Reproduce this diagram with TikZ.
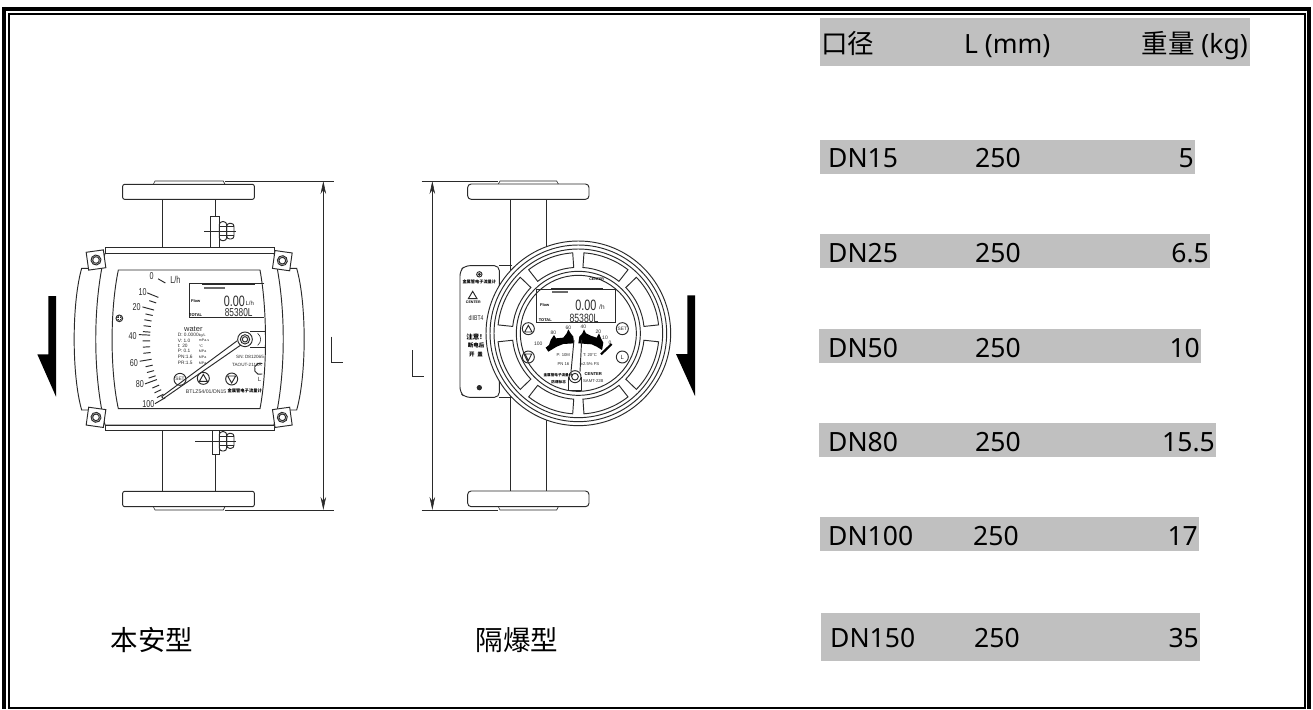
\documentclass[tikz,border=0pt]{standalone}
\usepackage{fontspec}
\setmainfont{Noto Sans}
\newfontfamily\cjk{Noto Sans CJK SC}
\newfontfamily\dial{Liberation Sans}
\usetikzlibrary{arrows.meta}
\definecolor{band}{HTML}{C0C0C0}
\definecolor{ink}{HTML}{2A2A2A}
\newcommand{\narrow}[1]{\scalebox{0.72}[1]{#1}}
\tikzset{
  x=1pt,y=-1pt,
  bandbox/.style={fill=band,draw=none},
  tab/.style={font=\fontsize{26.5}{26.5}\selectfont,inner sep=0pt,text=black},
  captext/.style={font=\cjk\fontsize{27.5}{28}\selectfont,inner sep=0pt,text=black},
  lw/.style={draw=ink,line width=0.95pt},
  thinline/.style={draw=ink,line width=0.6pt},
  small/.style={font=\dial\fontsize{#1}{#1}\selectfont,inner sep=0pt,text=ink},
  smallb/.style={font=\dial\bfseries\fontsize{#1}{#1}\selectfont,inner sep=0pt,text=black},
  smallc/.style={font=\cjk\bfseries\fontsize{#1}{#1}\selectfont,inner sep=0pt,text=black},
  dimarrow/.style={draw=ink,line width=0.6pt,{Stealth[length=13pt,width=5.5pt]}-{Stealth[length=13pt,width=5.5pt]}},
}
\begin{document}
\begin{tikzpicture}
\useasboundingbox (0,0) rectangle (1313,709);
\fill[white] (0,0) rectangle (1313,709);
% frame
\draw[black,line width=4pt] (4,9) -- (1309,9);
\draw[black,line width=4pt] (4,7) -- (4,709);
\draw[black,line width=4pt] (1309,7) -- (1309,709);
\draw[black,line width=2pt] (9,14) -- (1304.5,14);
\draw[black,line width=2pt] (9,13) -- (9,709);
\draw[black,line width=2pt] (1304.5,13) -- (1304.5,709);
\draw[black,line width=2pt] (8,708) -- (1305.5,708);
% table bands
\path[bandbox] (820,18) rectangle (1250,66);
\path[bandbox] (820,140) rectangle (1195,174);
\path[bandbox] (820,234) rectangle (1210,268);
\path[bandbox] (819,329) rectangle (1201,363);
\path[bandbox] (819,423) rectangle (1216,457);
\path[bandbox] (820,517) rectangle (1199,551);
\path[bandbox] (821,613) rectangle (1200,661);
% table text
\node[tab,anchor=base west] (h1) at (821,53) {\cjk 口径};
\node[tab,anchor=base west] (h2) at (964,53) {L (mm)};
\node[tab,anchor=base east] (h3) at (1248,53) {{\cjk 重量} (kg)};
\node[tab,anchor=base west] (a1) at (828,167) {DN15};
\node[tab,anchor=base west] (b1) at (975,167) {250};
\node[tab,anchor=base east] (c1) at (1194,167) {5};
\node[tab,anchor=base west] (a2) at (828,262) {DN25};
\node[tab,anchor=base west] (b2) at (975,262) {250};
\node[tab,anchor=base east] (c2) at (1209,262) {6.5};
\node[tab,anchor=base west] (a3) at (828,357) {DN50};
\node[tab,anchor=base west] (b3) at (975,357) {250};
\node[tab,anchor=base east] (c3) at (1200,357) {10};
\node[tab,anchor=base west] (a4) at (828,451) {DN80};
\node[tab,anchor=base west] (b4) at (975,451) {250};
\node[tab,anchor=base east] (c4) at (1215,451) {15.5};
\node[tab,anchor=base west] (a5) at (828,545) {DN100};
\node[tab,anchor=base west] (b5) at (973,545) {250};
\node[tab,anchor=base east] (c5) at (1198,545) {17};
\node[tab,anchor=base west] (a6) at (830,647) {DN150};
\node[tab,anchor=base west] (b6) at (974,647) {250};
\node[tab,anchor=base east] (c6) at (1199,647) {35};
% captions
\node[captext] (capa) at (152,640) {本安型};
\node[captext] (capb) at (517,640) {隔爆型};

% ---------- left meter (coordinates are 3x crop coordinates)
\begin{scope}[shift={(30,170)},scale=1/3]
  % flow arrow
  \fill[black] (55,378) -- (78,378) -- (78,680) -- (22,553) -- (55,553) -- cycle;
  % flanges
  \draw[lw,rounded corners=2pt] (278,43) rectangle (673,88);
  \draw[lw,rounded corners=2pt] (278,964) rectangle (673,1010);
  \draw[thinline] (370,43) -- (375,33) -- (580,33) -- (585,43);
  \draw[thinline] (370,1010) -- (375,1020) -- (580,1020) -- (585,1010);
  \draw[thinline] (585,33) -- (912,33);
  \draw[thinline] (585,1020) -- (912,1020);
  \draw[dimarrow] (880,33) -- (880,1020);
  \draw[thinline] (903,500) -- (903,577) -- (938,577);
  % pipes
  \draw[lw] (397,88) -- (397,232) (555,88) -- (555,138);
  \draw[lw] (397,782) -- (397,964) (555,853) -- (555,964);
  % top clamp
  \draw[lw] (540,138) rectangle (568,232);
  \draw[lw,rounded corners=3pt] (568,155) rectangle (590,212);
  \draw[lw,rounded corners=3pt] (590,160) rectangle (612,207);
  \draw[thinline] (568,170) -- (612,170) (568,197) -- (612,197) (522,184) -- (618,184);
  % bottom clamp
  \draw[lw] (546,782) rectangle (568,853);
  \draw[lw,rounded corners=3pt] (568,785) rectangle (590,843);
  \draw[lw,rounded corners=3pt] (590,790) rectangle (612,835);
  \draw[thinline] (568,800) -- (612,800) (568,825) -- (612,825) (495,815) -- (618,815);
  % side covers
  \draw[lw] (215,295) -- (155,295) .. controls (125,400) and (125,615) .. (155,720) -- (218,720);
  \draw[lw] (738,295) -- (800,295) .. controls (830,400) and (830,615) .. (800,720) -- (738,720);
  % body
  \draw[lw,fill=white] (225,250) .. controls (188,400) and (188,615) .. (225,765) -- (732,765) .. controls (769,615) and (769,400) .. (732,250) -- cycle;
  \draw[lw,fill=white] (225,233) rectangle (732,250);
  \draw[lw,fill=white] (225,765) rectangle (732,782);
  % corner brackets
  \foreach \cx/\cy/\ang in {198/270/8,757/272/-8,198/742/-8,757/742/8}{
    \begin{scope}[shift={(\cx,\cy)},rotate=\ang]
      \draw[lw,fill=white] (-26,-27) rectangle (26,27);
      \draw[lw] (0,0) circle[radius=15] (0,0) circle[radius=10];
    \end{scope}
  }
  % window
  \draw[lw] (265,300) -- (690,300) .. controls (712,420) and (712,600) .. (690,716) -- (265,716) .. controls (240,600) and (240,420) .. (265,300) -- cycle;
  % ground
  \draw[lw] (268,445) circle[radius=10];
  \fill[ink] (268,445) circle[radius=7];
  \draw[white,line width=.5pt] (262,445) -- (274,445) (268,439) -- (268,451);
  % scale
  \foreach \a in {19,12.5,9.7,6.9,4.1,-0.3,-3.2,-6.1,-12.5,-15.3,-18,-23,-25.5,-28}{
    \draw[lw] ({704-344*cos(\a)},{511-344*sin(\a)}) -- ({704-366*cos(\a)},{511-366*sin(\a)});
  }
  \foreach \a/\l in {30/25,22/36,15.3/36,2.6/34,-9.5/36,-20/38,-30/36}{
    \draw[lw] ({704-344*cos(\a)},{511-344*sin(\a)}) -- ({704-(344+\l)*cos(\a)},{511-(344+\l)*sin(\a)});
  }
  \node[small=10] (ln0) at (365,318) {\narrow{0}};
  \node[small=10] (lnlh) at (436,331) {\narrow{L/h}};
  \node[small=10] (ln10) at (338,365) {\narrow{10}};
  \node[small=10] (ln20) at (320,410) {\narrow{20}};
  \node[small=10] (ln40) at (308,497) {\narrow{40}};
  \node[small=10] (ln60) at (312,578) {\narrow{60}};
  \node[small=10] (ln80) at (330,642) {\narrow{80}};
  \node[small=10] (ln100) at (355,702) {\narrow{100}};
  % LCD
  \draw[lw] (703,340) -- (477,340) -- (477,442) -- (703,442);
  \fill[ink] (515,341) rectangle (675,345);
  \fill[ink!70] (522,351) rectangle (585,357);
  \node[smallb=4] (lf) at (497,394) {Flow};
  \node[smallb=4] (lt) at (497,435) {TOTAL};
  \node[small=15,anchor=base east] (lq) at (645,408) {\narrow{0.00}};
  \node[small=6,anchor=base west] (lu) at (646,405) {L/h};
  \node[small=11.5,anchor=base east] (ltot) at (668,440) {\narrow{85380L}};
  % plate text
  \node[small=7.5] (w) at (490,476) {water};
  \node[small=4.8,anchor=base west] (p1) at (443,500) {D: 0.0000};
  \node[small=3.6,anchor=base west] (p1u) at (506,500) {kg/L};
  \node[small=4.8,anchor=base west] (p2) at (443,516) {V: 1.0};
  \node[small=3.6,anchor=base west] (p2u) at (506,514) {mPa.s};
  \node[small=4.8,anchor=base west] (p3) at (443,531) {t: 20};
  \node[small=3.6,anchor=base west] (p3u) at (506,531) {°C};
  \node[small=4.8,anchor=base west] (p4) at (443,548) {P: 0.1};
  \node[small=3.6,anchor=base west] (p4u) at (506,548) {MPa};
  \node[small=4.8,anchor=base west] (p5) at (443,565) {PN:1.6};
  \node[small=3.6,anchor=base west] (p5u) at (506,565) {MPa};
  \node[small=4.8,anchor=base west] (p6) at (443,582) {PR:1.5};
  \node[small=3.6,anchor=base west] (p6u) at (506,582) {MPa};
  \node[small=4.6,anchor=base west] (sn) at (618,566) {SN: D812065};
  \node[small=4.6,anchor=base west] (tag) at (606,589) {TAOUT-2113A};
  % pointer
  \draw[lw] (395,680) -- (622,512) (400,686) -- (634,524) (395,680) -- (400,686);
  \draw[lw,fill=white] (645,508) circle[radius=22];
  \draw[lw] (645,508) circle[radius=14] (645,508) circle[radius=8];
  \draw[lw] (660,484) -- (705,484) (660,532) -- (705,532);
  \draw[thinline] (683,490) .. controls (695,500) and (695,516) .. (683,526);
  % buttons
  \draw[lw] (450,628) circle[radius=18];
  \node[small=4.8] (bset) at (450,628) {SET};
  \draw[lw] (520,625) circle[radius=18];
  \draw[lw] (508,634) -- (520,613) -- (532,634) -- cycle;
  \draw[lw] (605,627) circle[radius=18];
  \draw[lw] (593,618) -- (617,618) -- (605,639) -- cycle;
  \draw[lw] (697,612) arc[start angle=66,end angle=294,radius=17];
  \node[small=6] (bl) at (689,628) {L};
  \node[small=5.2,anchor=base west] (model) at (467,669) {BTLZ54/01/DN15};
  \node[smallc=4.3,anchor=base west] (mname) at (592,668) {金属管电子流量计};
\end{scope}

% ---------- right meter
\begin{scope}[shift={(400,170)},scale=1/3]
  \fill[black] (862,376) -- (885,376) -- (885,678) -- (828,552) -- (862,552) -- cycle;
  \draw[lw,rounded corners=3.5pt] (203,42) rectangle (567,88);
  \draw[lw,rounded corners=3.5pt] (203,963) rectangle (567,1010);
  \draw[thinline] (295,42) -- (300,33) -- (470,33) -- (475,42);
  \draw[thinline] (295,1010) -- (300,1020) -- (470,1020) -- (475,1010);
  \draw[thinline] (65,33) -- (295,33);
  \draw[thinline] (65,1020) -- (295,1020);
  \draw[dimarrow] (97,33) -- (97,1020);
  \draw[thinline] (37,540) -- (37,618) -- (72,618);
  \draw[lw] (331,88) -- (331,963) (438,88) -- (438,963);
  % plate
  \draw[lw,fill=white,rounded corners=5pt] (298,287) -- (195,287) -- (180,302) -- (180,667) -- (195,682) -- (298,682) -- cycle;
  \draw[lw] (298,287) -- (335,287) (298,682) -- (335,682);
  \draw[lw] (238,313) circle[radius=8];
  \fill[ink] (238,653) circle[radius=8];
  \fill[ink] (238,313) circle[radius=5];
  \node[smallc=4.2] (pa) at (238,337) {金属管电子流量计};
  \draw[lw] (205,386) -- (218,364) -- (231,386) -- cycle;
  \node[smallb=3.6] (pb) at (220,397) {CENTER};
  \node[small=7] (pc) at (228,443) {\narrow{dIIBT4}};
  \node[smallc=6.5] (pd) at (228,500) {注意！};
  \node[smallc=5.5] (pe) at (228,527) {断电后};
  \node[smallc=5.5] (pf) at (228,553) {开\,\,\,盖};
  % dial
  \draw[lw,fill=white] (535,490) circle[radius=277];
  \draw[lw] (535,490) circle[radius=265];
  \draw[lw] (535,490) circle[radius=253];
  \draw[lw] (535,490) circle[radius=186];
  \draw[lw] (535,490) circle[radius=174];
  \begin{scope}[shift={(535,490)}]
  \foreach \p/\q in {52/86,6/44,-44/-6,-86/-52,-128/-94,-174/-136,136/174,94/128}{
    \draw[lw] (\p:242) arc[start angle=\p,end angle=\q,radius=242] -- (\q:198) arc[start angle=\q,end angle=\p,radius=198] -- cycle;
  }
  \end{scope}
  % LCD
  \draw[lw] (410,358) rectangle (645,458);
  \fill[ink] (452,354) rectangle (610,358);
  \fill[ink!70] (456,364) rectangle (505,369);
  \node[smallb=3.6] (cc) at (590,328) {CENTER};
  \node[smallb=4] (df) at (434,406) {Flow};
  \node[smallb=4] (dt) at (436,450) {TOTAL};
  \node[small=15,anchor=base east] (dq) at (590,422) {\narrow{0.00}};
  \node[small=6.5,anchor=base west] (du) at (597,418) {/h};
  \node[small=12,anchor=base east] (dtot) at (596,456) {\narrow{85380L}};
  % buttons
  \draw[lw] (385,476) circle[radius=18];
  \draw[lw] (374,486) -- (385,466) -- (396,486) -- cycle;
  \draw[lw] (667,476) circle[radius=18];
  \node[small=4.8] (dset) at (667,476) {SET};
  \draw[lw] (385,561) circle[radius=18];
  \draw[lw] (375,552) -- (395,552) -- (385,572) -- cycle;
  \draw[lw] (667,561) circle[radius=18];
  \node[small=6] (dl) at (667,561) {L};
  % black fan
  \fill[black] (437,533) -- (447,525) -- (452,510) -- (462,495) -- (468,505) -- (490,503) -- (500,490) -- (505,478) -- (512,490) -- (520,500) -- (522,520) -- (490,522) -- (470,530) -- (445,545) -- cycle;
  \fill[black] (535,520) -- (538,500) -- (547,490) -- (552,478) -- (558,490) -- (572,497) -- (590,503) -- (597,490) -- (603,505) -- (610,518) -- (608,530) -- (606,540) -- (590,530) -- (575,523) -- cycle;
  \draw[black,line width=2.2pt] (603,553) -- (635,522);
  \node[small=5] (g100) at (415,521) {100};
  \node[small=5] (g80) at (460,488) {80};
  \node[small=5] (g60) at (505,473) {60};
  \node[small=5] (g40) at (550,471) {40};
  \node[small=5] (g20) at (595,486) {20};
  \node[small=5] (g10) at (615,502) {10};
  \node[small=5] (g0) at (630,518) {0};
  % pointer
  \draw[lw] (522,510) -- (513,605) (545,510) -- (540,605);
  \draw[lw] (505,620) -- (505,660) -- (545,660) -- (545,620);
  \draw[lw,fill=white] (525,620) circle[radius=18];
  \draw[lw] (525,620) circle[radius=10];
  \node[small=4.2] (t1) at (490,556) {P: 10M};
  \node[small=4.2] (t2) at (570,556) {T: 20°C};
  \node[small=4.2] (t3) at (490,583) {PN 16};
  \node[small=4.2] (t4) at (570,583) {±2.5\% FS};
  \node[smallc=3.6] (t5) at (474,615) {金属管电子流量计};
  \node[smallc=3.6] (t6) at (476,637) {防爆标志};
  \node[smallb=4.2] (t7) at (580,612) {CENTER};
  \node[small=4.2] (t8) at (580,632) {SAMT-22B};
\end{scope}
\end{tikzpicture}
\end{document}
